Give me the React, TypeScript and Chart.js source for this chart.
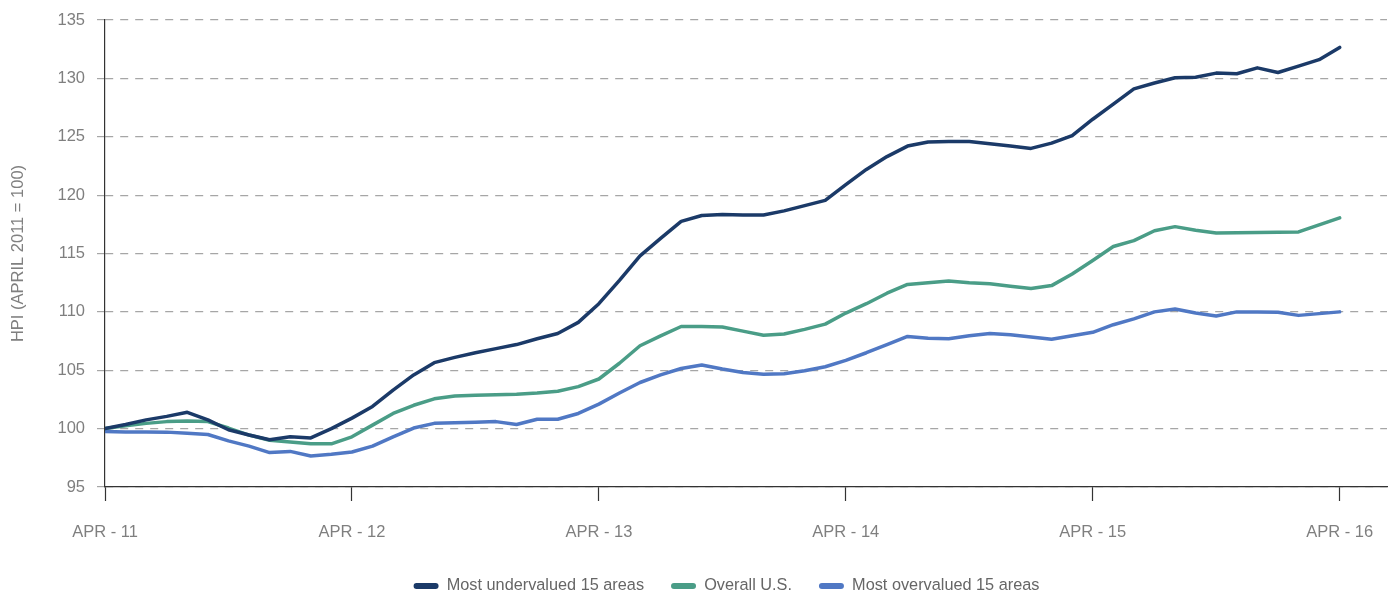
import React, { useEffect, useRef } from 'react';
import { Chart, registerables } from 'chart.js';

Chart.register(...registerables);

// Month index from April 2011 (0) to April 2016 (60)
const months: number[] = Array.from({ length: 61 }, (_, i) => i);
const xTickLabels = ['APR - 11', 'APR - 12', 'APR - 13', 'APR - 14', 'APR - 15', 'APR - 16'];
const xTickMonths = [0, 12, 24, 36, 48, 60];
const yTicks = [95, 100, 105, 110, 115, 120, 125, 130, 135];

const seriesNames = ['Most undervalued 15 areas', 'Overall U.S.', 'Most overvalued 15 areas'];

const undervalued = [
  100.0, 100.35, 100.75, 101.05, 101.4, 100.75, 99.9, 99.45, 99.05, 99.3, 99.2,
  100.0, 100.9, 101.9, 103.3, 104.6, 105.65, 106.1, 106.5, 106.85, 107.2, 107.7,
  108.15, 109.1, 110.7, 112.7, 114.8, 116.3, 117.75, 118.25, 118.35, 118.3, 118.3,
  118.65, 119.1, 119.55, 120.9, 122.2, 123.3, 124.2, 124.55, 124.6, 124.6, 124.4,
  124.2, 124.0, 124.45, 125.1, 126.5, 127.8, 129.1, 129.6, 130.05, 130.1,
  130.45, 130.4, 130.9, 130.5, 131.05, 131.6, 132.65,
];

const overall = [
  100.0, 100.25, 100.45, 100.6, 100.65, 100.6, 100.05, 99.45, 99.0, 98.85, 98.7,
  98.7, 99.3, 100.3, 101.3, 102.0, 102.55, 102.8, 102.85, 102.9, 102.95, 103.05,
  103.2, 103.6, 104.25, 105.6, 107.1, 107.95, 108.75, 108.75, 108.7, 108.35, 108.0,
  108.1, 108.5, 108.95, 109.9, 110.7, 111.6, 112.35, 112.5, 112.65, 112.5, 112.4,
  112.2, 112.0, 112.25, 113.25, 114.4, 115.6, 116.1, 116.95, 117.3, 117.0,
  116.75, 116.78, 116.8, 116.82, 116.85, 117.45, 118.05,
];

const overvalued = [
  99.75, 99.72, 99.72, 99.7, 99.6, 99.5, 98.95, 98.5, 97.95, 98.05, 97.65,
  97.8, 98.0, 98.5, 99.3, 100.05, 100.45, 100.5, 100.55, 100.6, 100.35, 100.8,
  100.8, 101.3, 102.1, 103.05, 103.95, 104.6, 105.15, 105.45, 105.1, 104.8, 104.65,
  104.7, 104.95, 105.3, 105.85, 106.5, 107.2, 107.9, 107.75, 107.7, 107.95, 108.15,
  108.05, 107.85, 107.65, 107.95, 108.25, 108.9, 109.4, 110.0, 110.25, 109.9,
  109.65, 110.0, 110.0, 109.97, 109.7, 109.85, 110.0,
];

const seriesValues = [undervalued, overall, overvalued];
const seriesColors = ['#1b3a68', '#4a9d87', '#5078c4'];

const FONT = '"Liberation Sans", Arial, Helvetica, sans-serif';

const legendPlace = {
  id: 'legendPlace',
  afterLayout(chart: any) {
    const lg = chart.legend;
    if (!lg) return;
    const dx = 726.5 - (lg.left + lg.right) / 2;
    const pad = lg.options.labels.padding;
    const fs = 16.3;
    const dy = 586 - pad - fs / 2 - lg.top;
    lg.left += dx;
    lg.right += dx;
    lg.top += dy;
    lg.bottom += dy;
  },
};

export default function App() {
  const ref = useRef<HTMLCanvasElement | null>(null);

  useEffect(() => {
    if (!ref.current) return;
    const chart = new Chart(ref.current, {
      type: 'line',
      data: {
        datasets: seriesValues.map((vals, k) => ({
          label: seriesNames[k],
          data: vals.map((v, i) => ({ x: months[i], y: v })),
          borderColor: seriesColors[k],
          backgroundColor: seriesColors[k],
          borderWidth: 3.5,
          pointRadius: 0,
          pointHoverRadius: 0,
          tension: 0,
          borderJoinStyle: 'round',
          borderCapStyle: 'round',
          fill: false,
        })),
      },
      options: {
        responsive: false,
        animation: false,
        layout: { padding: { top: 20, right: 3, left: 0, bottom: 0 } },
        plugins: {
          tooltip: { enabled: false },
          legend: {
            position: 'bottom',
            labels: {
              font: { family: FONT, size: 16.3 },
              color: '#666666',
              boxWidth: 25,
              boxHeight: 6,
              useBorderRadius: true,
              borderRadius: 3,
              padding: 27,
              generateLabels: (c: any) =>
                Chart.defaults.plugins.legend.labels.generateLabels(c).map((it: any) => ({
                  ...it,
                  lineWidth: 0,
                })),
            },
          },
        },
        scales: {
          x: {
            type: 'linear',
            min: 0,
            max: 62.3,
            afterBuildTicks: (axis: any) => {
              axis.ticks = xTickMonths.map((m) => ({ value: m }));
            },
            afterFit: (axis: any) => {
              axis.height = 54.7;
              axis.paddingLeft = 0;
              axis.paddingRight = 0;
            },
            grid: {
              drawOnChartArea: false,
              drawTicks: true,
              tickLength: 14,
              tickColor: '#333333',
              tickWidth: 1.2,
            },
            border: { display: true, color: '#333333', width: 1.2 },
            ticks: {
              autoSkip: false,
              maxRotation: 0,
              minRotation: 0,
              padding: 22,
              color: '#7f7f7f',
              font: { family: FONT, size: 16.5 },
              callback: (value: any) => {
                const idx = xTickMonths.indexOf(Number(value));
                return idx >= 0 ? xTickLabels[idx] : '';
              },
            },
          },
          y: {
            type: 'linear',
            min: yTicks[0],
            max: yTicks[yTicks.length - 1],
            afterBuildTicks: (axis: any) => {
              axis.ticks = yTicks.map((v) => ({ value: v }));
            },
            afterFit: (axis: any) => {
              axis.width = 105;
              axis.paddingTop = 0;
              axis.paddingBottom = 0;
            },
            grid: {
              color: '#a6a6a6',
              lineWidth: 1.2,
              drawTicks: true,
              tickLength: 8,
              tickColor: '#a6a6a6',
            },
            border: { display: true, color: '#333333', width: 1.2, dash: [8, 7] },
            ticks: {
              padding: 12,
              color: '#7f7f7f',
              font: { family: FONT, size: 16.5 },
            },
            title: {
              display: true,
              text: 'HPI (APRIL 2011 = 100)',
              color: '#808080',
              font: { family: FONT, size: 16.5 },
              padding: { top: 8.5, bottom: 0 },
            },
          },
        },
      },
      plugins: [legendPlace],
    } as any);
    return () => chart.destroy();
  }, []);

  return (
    <div style={{ position: 'fixed', left: 0, top: 0, width: 1390, height: 595, background: '#ffffff' }}>
      <canvas ref={ref} width={1390} height={595} style={{ display: 'block' }} />
    </div>
  );
}
